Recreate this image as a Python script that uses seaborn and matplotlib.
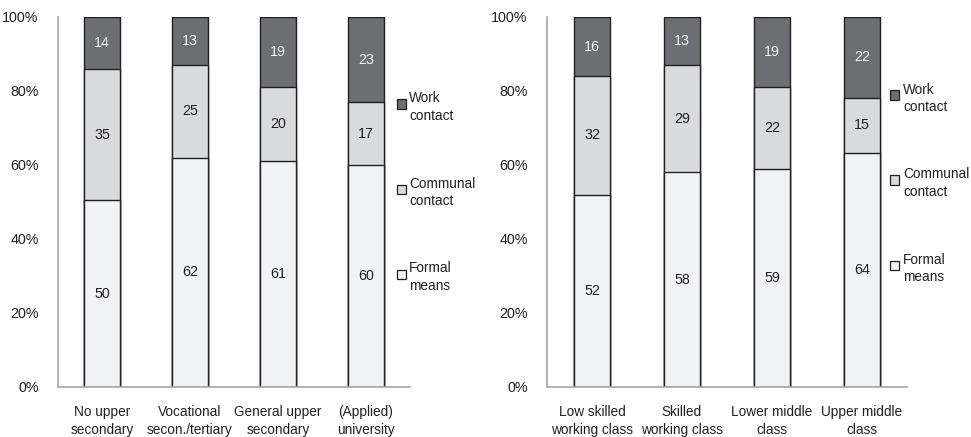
import numpy as np
import pandas as pd
import matplotlib
matplotlib.use("Agg")
import matplotlib.pyplot as plt
import seaborn as sns

# Data: percentages
edu_cats = ["No upper\nsecondary", "Vocational\nsecon./tertiary", "General upper\nsecondary", "(Applied)\nuniversity"]
edu_formal = [50, 62, 61, 60]
edu_communal = [35, 25, 20, 17]
edu_work = [14, 13, 19, 23]

class_cats = ["Low skilled\nworking class", "Skilled\nworking class", "Lower middle\nclass", "Upper middle\nclass"]
class_formal = [52, 58, 59, 64]
class_communal = [32, 29, 22, 15]
class_work = [16, 13, 19, 22]

series_names = ["Formal\nmeans", "Communal\ncontact", "Work\ncontact"]
series_colors = ["#f1f2f3", "#d9dadb", "#6d6e71"]
label_colors = ["#231f20", "#231f20", "#f2f2f2"]
edge = "#231f20"
spine_col = "#a6a6a6"
FS = 9.8

sns.set_style("white")
plt.rcParams["font.family"] = ["Liberation Sans", "DejaVu Sans"]

W, H = 971, 437
fig = plt.figure(figsize=(W / 100, H / 100), dpi=100)
ax1 = fig.add_axes([58 / W, 1 - 387 / H, 352 / W, 370 / H])
ax2 = fig.add_axes([547 / W, 1 - 387 / H, 360 / W, 370 / H])


def draw(ax, cats, formal, communal, work, mark_x, text_x, legend_top):
    df = pd.DataFrame({"cat": cats, "formal": formal, "communal": communal, "work": work})
    total = df[["formal", "communal", "work"]].sum(axis=1)
    pct = df[["formal", "communal", "work"]].div(total, axis=0) * 100
    cum = pct.cumsum(axis=1)
    # draw from the top layer down so lower segments sit on top
    for col, color in zip(["work", "communal", "formal"], series_colors[::-1]):
        sns.barplot(x=df["cat"], y=cum[col], color=color, width=0.4, saturation=1,
                    edgecolor=edge, linewidth=1, ax=ax, zorder=2)
    for i in range(len(df)):
        bottom = 0
        for j, col in enumerate(["formal", "communal", "work"]):
            h = pct[col].iloc[i]
            ax.text(i, bottom + h / 2, str(df[col].iloc[i]), ha="center", va="center",
                    color=label_colors[j], fontsize=FS + 0.5, zorder=3)
            bottom += h
    ax.set_xlim(-0.5, len(df) - 0.5)
    ax.set_ylim(0, 100)
    ax.set_yticks(np.arange(0, 101, 20))
    ax.set_yticklabels([f"{v}%" for v in range(0, 101, 20)])
    ax.set_xticks(np.arange(-0.5, len(df), 1), minor=True)
    ax.tick_params(axis="x", which="major", length=0, pad=13, labelsize=FS, colors="#231f20")
    ax.tick_params(axis="x", which="minor", length=5, direction="out", color=spine_col, width=1)
    ax.tick_params(axis="y", length=5, direction="out", color=spine_col, width=1, pad=9,
                   labelsize=FS + 0.5, labelcolor="#231f20")
    for t in ax.get_xticklabels():
        t.set_linespacing(1.35)
    ax.set_xlabel("")
    ax.set_ylabel("")
    for s in ["top", "right"]:
        ax.spines[s].set_visible(False)
    for s in ["left", "bottom"]:
        ax.spines[s].set_color(spine_col)
        ax.spines[s].set_linewidth(1.2)
    # legend: Work on top, Formal at bottom
    for k, j in enumerate([2, 1, 0]):
        y = legend_top + k * 85
        fig.patches.append(plt.Rectangle(((mark_x - 4.5) / W, 1 - (y + 4.5) / H), 9 / W, 9 / H,
                                         transform=fig.transFigure, facecolor=series_colors[j],
                                         edgecolor=edge, linewidth=0.9))
        fig.text(text_x / W, 1 - y / H, series_names[j], ha="left", va="center_baseline",
                 fontsize=FS, color="#231f20", linespacing=1.35)


draw(ax1, edu_cats, edu_formal, edu_communal, edu_work, 401, 409, 104)
draw(ax2, class_cats, class_formal, class_communal, class_work, 894, 903, 95)
plt.savefig("out.png", dpi=100)
